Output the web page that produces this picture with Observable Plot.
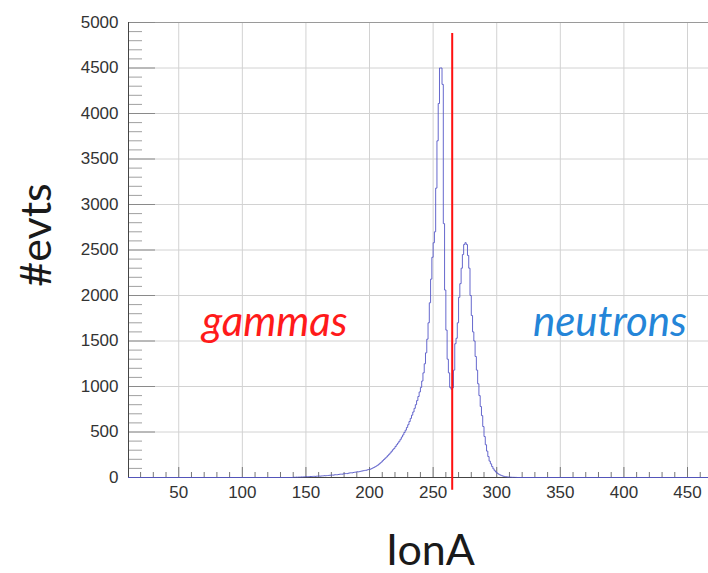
<!DOCTYPE html>
<html><head><meta charset="utf-8">
<script src="https://cdn.jsdelivr.net/npm/d3@7"></script>
<script src="https://cdn.jsdelivr.net/npm/@observablehq/plot@0.6"></script>
<style>body{margin:0;background:#fff}</style>
</head><body><div id="chart"></div>
<script>
// ---- data ----
const binStart = 140;   // IonA value of first bin's left edge
const binWidth = 1;
const counts = [
  3,2,4,3,5,4,6,5,7,8,
  9,8,10,11,10,12,13,12,14,15,
  16,15,17,18,20,19,21,22,24,25,
  27,26,29,31,30,33,35,37,36,40,
  42,44,43,47,50,52,51,55,58,60,
  63,62,66,70,72,75,78,80,84,88,
  90,96,103,110,118,126,135,146,158,170,
  185,198,212,225,240,255,270,288,305,320,
  340,360,378,398,420,445,468,495,520,550,
  580,615,650,685,720,760,800,845,890,940,
  990,1060,1150,1250,1370,1520,1700,1920,2180,2420,
  2580,2700,3180,3700,4110,4500,4500,4320,2790,2060,
  1620,1300,1150,990,970,985,1180,1470,1530,1700,
  1980,2130,2300,2450,2560,2580,2560,2440,2300,2000,
  1780,1600,1500,1330,1180,1030,900,780,680,560,
  450,360,290,230,180,150,120,95,75,60,
  48,38,30,24,18,14,10,8,6,5,
  4,3,2,2,1,1
];
const xDomain = [10.5, 466.5];
const yDomain = [0, 5000];
const xMajor = [50,100,150,200,250,300,350,400,450];
const yMajor = [0,500,1000,1500,2000,2500,3000,3500,4000,4500,5000];
const cutX = 265;
const cutY = [-140, 4880];
const labelText = ["gammas", "neutrons"];
const labelX = [125.5, 389];
const labelY = [1700, 1700];
const labelColor = ["#ff1a1a", "#2485d8"];
const xTitle = "IonA";
const yTitle = "#evts";

// ---- build ----
const xMinor = d3.range(20, 467, 10).filter(v => v % 50 !== 0);
const yMinor = d3.range(0, 5001, 100).filter(v => v % 500 !== 0);
const pts = [{x: xDomain[0], y: 0}]
  .concat(counts.map((c, i) => ({x: binStart + i * binWidth, y: c})))
  .concat([{x: binStart + counts.length * binWidth, y: 0}, {x: xDomain[1], y: 0}]);

const tickFont = "Liberation Sans, Arial, sans-serif";
const chart = Plot.plot({
  width: 708, height: 573,
  marginLeft: 128, marginRight: 0, marginTop: 22, marginBottom: 96,
  x: {domain: xDomain, label: null},
  y: {domain: yDomain, label: null},
  style: {background: "#fff", overflow: "visible", fontFamily: tickFont},
  marks: [
    Plot.gridX(xMajor, {stroke: "#d2d2d2", strokeOpacity: 1}),
    Plot.gridY(yMajor, {stroke: "#d2d2d2", strokeOpacity: 1}),
    Plot.ruleY([yDomain[1]], {stroke: "#9a9a9a"}),
    Plot.axisY(yMinor, {tickSize: -14, tickFormat: () => "", stroke: "#a0a0a0", label: null}),
    Plot.axisY(yMajor, {tickSize: -27, tickFormat: () => "", stroke: "#8a8a8a", label: null}),
    Plot.axisY(yMajor, {tickSize: 0, tickPadding: 10, fontSize: 17, fontFamily: tickFont, fill: "#333", tickFormat: d3.format("d"), label: null}),
    Plot.axisX(xMinor, {tickSize: -5, tickFormat: () => "", stroke: "#777", label: null}),
    Plot.axisX(xMajor, {tickSize: -10, tickFormat: () => "", stroke: "#777", label: null}),
    Plot.axisX(xMajor, {tickSize: 0, tickPadding: 8, fontSize: 17, fontFamily: tickFont, fill: "#333", tickFormat: d3.format("d"), label: null}),
    Plot.ruleX([xDomain[0]], {stroke: "#444"}),
    Plot.ruleY([0], {stroke: "#444"}),
    Plot.line(pts, {x: "x", y: "y", curve: "step-after", stroke: "#5558c8", strokeOpacity: 0.9, strokeWidth: 1}),
    Plot.ruleX([cutX], {y1: cutY[0], y2: cutY[1], stroke: "#ff1010", strokeWidth: 2}),
    Plot.text([0], {x: labelX[0], y: labelY[0], text: () => labelText[0], fill: labelColor[0], fontSize: 42, fontStyle: "italic", fontFamily: "Lato", textAnchor: "middle"}),
    Plot.text([1], {x: labelX[1], y: labelY[1], text: () => labelText[1], fill: labelColor[1], fontSize: 42, fontStyle: "italic", fontFamily: "Lato", textAnchor: "middle"}),
    Plot.text([yTitle], {frameAnchor: "left", textAnchor: "middle", rotate: -90, dx: -91, dy: -15, fontSize: 43, fontFamily: "Lato", fill: "#1a1a1a"}),
    Plot.text([xTitle], {frameAnchor: "bottom", textAnchor: "middle", dx: 12, dy: 87, fontSize: 43, fontFamily: "Lato", fill: "#1a1a1a"})
  ]
});
document.getElementById("chart").appendChild(chart);
</script>
</body></html>
